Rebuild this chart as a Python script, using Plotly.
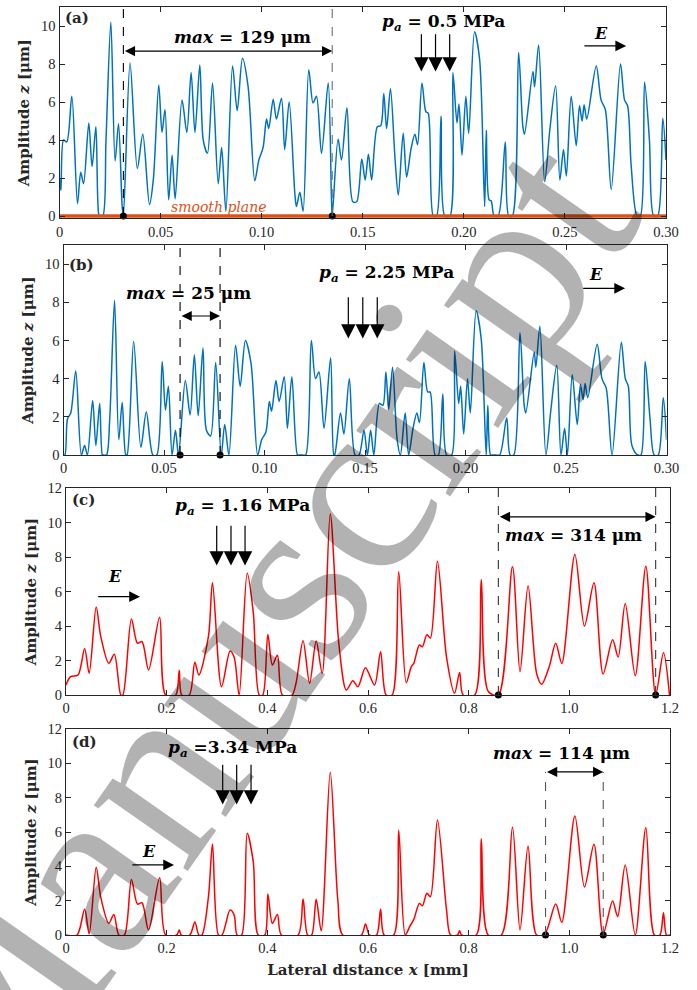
import plotly.graph_objects as go

# ---------------- data ----------------
x_ab = [0.0000, 0.0007, 0.0020, 0.0036, 0.0061, 0.0089, 0.0105, 0.0119, 0.0145, 0.0161,
        0.0180, 0.0194, 0.0200, 0.0214, 0.0230, 0.0254, 0.0275, 0.0292, 0.0310, 0.0316,
        0.0349, 0.0385, 0.0412, 0.0445, 0.0464, 0.0491, 0.0507, 0.0522, 0.0540, 0.0557,
        0.0572, 0.0606, 0.0630, 0.0651, 0.0670, 0.0694, 0.0711, 0.0732, 0.0757, 0.0785,
        0.0802, 0.0823, 0.0856, 0.0879, 0.0905, 0.0933, 0.0966, 0.0986, 0.1007, 0.1024,
        0.1035, 0.1057, 0.1073, 0.1098, 0.1114, 0.1136, 0.1164, 0.1172, 0.1189, 0.1205,
        0.1233, 0.1254, 0.1271, 0.1296, 0.1329, 0.1345, 0.1349, 0.1378, 0.1395, 0.1422,
        0.1451, 0.1470, 0.1495, 0.1512, 0.1528, 0.1544, 0.1572, 0.1589, 0.1604, 0.1618,
        0.1637, 0.1660, 0.1676, 0.1700, 0.1717, 0.1739, 0.1758, 0.1771, 0.1793, 0.1812,
        0.1824, 0.1849, 0.1865, 0.1887, 0.1906, 0.1931, 0.1946, 0.1966, 0.1976, 0.1991,
        0.2010, 0.2024, 0.2053, 0.2078, 0.2103, 0.2111, 0.2125, 0.2135, 0.2150, 0.2170,
        0.2205, 0.2222, 0.2240, 0.2271, 0.2292, 0.2300, 0.2342, 0.2350, 0.2370, 0.2400,
        0.2425, 0.2454, 0.2475, 0.2493, 0.2507, 0.2531, 0.2556, 0.2572, 0.2585, 0.2595,
        0.2608, 0.2655, 0.2679, 0.2700, 0.2729, 0.2775, 0.2795, 0.2810, 0.2828, 0.2857,
        0.2873, 0.2894, 0.2918, 0.2939, 0.2959, 0.2984, 0.3000]

z_a = [2.0, 1.35, 4.0, 3.9, 6.3, 0.65, 2.3, 1.7, 4.9, 2.6,
       4.7, 0.1, 0.0, 0.0, 4.0, 10.2, 2.9, 4.85, 0.5, 0.0,
       8.05, 2.5, 4.3, 0.6, 1.9, 6.9, 4.4, 5.6, 0.85, 3.2,
       0.9, 6.1, 4.4, 7.55, 4.4, 7.95, 4.0, 3.3, 7.0, 1.7,
       3.6, 0.25, 7.9, 5.55, 8.3, 6.8, 1.85, 2.95, 3.6, 5.1,
       4.6, 6.15, 5.1, 6.2, 3.5, 6.0, 1.2, 0.5, 1.25, 0.25,
       7.7, 5.95, 6.3, 3.3, 7.0, 1.0, 0.0, 4.05, 2.95, 5.7,
       0.75, 0.75, 3.0, 1.9, 3.25, 1.9, 4.7, 4.75, 6.45, 4.6,
       6.7, 2.95, 1.1, 4.35, 2.05, 3.55, 4.3, 3.75, 7.0, 5.5,
       5.4, 0.0, 0.0, 5.25, 0.0, 0.0, 7.55, 4.9, 5.9, 3.2,
       6.3, 4.35, 9.7, 8.25, 0.5, 4.5, 0.85, 0.8, 0.0, 0.0,
       3.9, 0.0, 0.0, 8.6, 4.7, 4.3, 7.6, 6.8, 9.0, 1.8,
       4.5, 6.85, 1.9, 3.5, 2.1, 6.3, 3.7, 5.8, 5.0, 5.85,
       5.1, 7.9, 6.1, 5.6, 1.4, 8.0, 6.1, 5.8, 2.6, 0.0,
       0.0, 7.05, 4.0, 0.0, 0.0, 5.15, 2.95]

z_b = [0.0, 0.0, 1.9, 2.2, 4.4, 0.0, 0.5, 0.0, 2.85, 0.5,
       2.7, 0.0, 0.0, 0.0, 1.9, 8.1, 0.8, 2.75, 0.0, 0.0,
       5.95, 0.4, 2.25, 0.0, 0.0, 4.9, 2.35, 3.6, 0.0, 1.3,
       0.0, 3.9, 2.1, 5.25, 2.05, 5.6, 1.3, 1.0, 4.85, 0.0,
       1.6, 0.0, 5.75, 3.6, 6.0, 4.8, 0.0, 0.8, 1.2, 2.8,
       2.3, 3.9, 2.8, 4.1, 1.4, 4.1, 0.0, 0.0, 0.0, 0.0,
       6.0, 4.0, 4.35, 1.4, 5.1, 0.0, 0.0, 2.2, 1.1, 4.0,
       0.0, 0.0, 1.3, 0.0, 1.3, 0.0, 2.7, 2.6, 4.35, 2.4,
       4.6, 0.8, 0.0, 2.2, 0.0, 1.4, 2.2, 1.7, 4.85, 3.3,
       3.3, 0.0, 0.0, 3.2, 0.0, 0.0, 5.45, 2.7, 3.6, 1.1,
       4.0, 2.2, 7.55, 6.1, 0.0, 2.6, 0.0, 0.0, 0.0, 0.0,
       1.95, 0.0, 0.0, 6.4, 2.6, 2.2, 5.4, 4.6, 6.75, 0.0,
       2.4, 4.7, 0.0, 1.4, 0.0, 4.2, 1.6, 3.7, 2.9, 3.75,
       3.0, 5.8, 4.0, 3.5, 0.0, 5.9, 4.0, 3.6, 0.5, 0.0,
       0.0, 4.9, 1.9, 0.0, 0.0, 3.0, 0.8]

x_c = [0.000, 0.009, 0.024, 0.037, 0.046, 0.060, 0.069, 0.085, 0.096, 0.109,
       0.113, 0.130, 0.142, 0.151, 0.164, 0.186, 0.198, 0.218, 0.225, 0.230,
       0.245, 0.256, 0.264, 0.283, 0.291, 0.309, 0.326, 0.334, 0.344, 0.360,
       0.372, 0.384, 0.391, 0.401, 0.410, 0.420, 0.430, 0.449, 0.457, 0.471,
       0.484, 0.497, 0.509, 0.525, 0.542, 0.557, 0.570, 0.580, 0.595, 0.613,
       0.625, 0.636, 0.648, 0.661, 0.676, 0.686, 0.691, 0.702, 0.708, 0.717,
       0.724, 0.738, 0.756, 0.772, 0.782, 0.789, 0.812, 0.825, 0.839, 0.859,
       0.887, 0.902, 0.918, 0.935, 0.945, 0.960, 0.973, 0.985, 1.011, 1.030,
       1.049, 1.067, 1.086, 1.097, 1.111, 1.131, 1.152, 1.1715, 1.187, 1.199]
z_c = [0.58, 1.06, 1.16, 2.7, 1.26, 5.1, 3.4, 1.84, 2.36, 0.0,
       0.0, 4.4, 3.0, 3.1, 1.45, 4.5, 0.0, 0.0, 1.43, 0.0,
       0.0, 1.9, 1.16, 3.4, 6.5, 0.48, 2.55, 2.2, 0.0, 7.06,
       4.8, 0.0, 0.0, 3.5, 1.74, 2.3, 0.0, 0.0, 0.68, 3.15,
       0.68, 3.13, 1.26, 10.5, 3.0, 0.29, 0.83, 0.48, 1.58, 0.58,
       2.5, 0.0, 0.0, 7.14, 0.71, 1.64, 1.83, 2.9, 2.8, 3.5,
       3.3, 7.76, 2.2, 0.1, 1.3, 0.0, 0.0, 6.7, 0.2, 0.0,
       7.43, 1.35, 6.33, 1.25, 0.62, 1.64, 3.0, 1.83, 8.15, 4.0,
       6.5, 1.22, 3.2, 2.2, 5.3, 1.12, 7.47, 0.0, 2.45, 0.0]

x_d = [0.000, 0.022, 0.037, 0.046, 0.060, 0.069, 0.085, 0.095, 0.105, 0.116,
       0.130, 0.142, 0.151, 0.164, 0.186, 0.198, 0.220, 0.225, 0.229, 0.246,
       0.256, 0.264, 0.270, 0.283, 0.291, 0.303, 0.310, 0.326, 0.334, 0.340,
       0.349, 0.360, 0.372, 0.382, 0.395, 0.401, 0.410, 0.420, 0.428, 0.461,
       0.471, 0.480, 0.488, 0.497, 0.507, 0.525, 0.540, 0.550, 0.587, 0.595,
       0.603, 0.617, 0.625, 0.632, 0.651, 0.661, 0.674, 0.683, 0.691, 0.702,
       0.708, 0.717, 0.724, 0.738, 0.756, 0.764, 0.778, 0.782, 0.786, 0.815,
       0.825, 0.839, 0.865, 0.887, 0.902, 0.918, 0.935, 0.951, 0.973, 0.985,
       1.011, 1.030, 1.049, 1.067, 1.086, 1.096, 1.111, 1.131, 1.152, 1.169,
       1.180, 1.187, 1.193, 1.200]
z_d = [0.0, 0.0, 1.5, 0.06, 3.94, 2.2, 0.68, 1.2, 0.0, 0.0,
       3.24, 1.8, 1.88, 0.29, 3.34, 0.0, 0.0, 0.29, 0.0, 0.0,
       0.76, 0.0, 0.0, 2.23, 5.3, 0.0, 0.0, 1.45, 1.17, 0.0,
       0.0, 5.92, 4.27, 0.0, 0.0, 2.39, 0.68, 1.2, 0.0, 0.0,
       2.1, 0.0, 0.0, 2.08, 0.25, 9.48, 2.04, 0.0, 0.0, 0.64,
       0.0, 0.0, 1.5, 0.0, 0.0, 6.1, 0.0, 0.5, 0.91, 1.84,
       1.7, 2.43, 2.23, 6.7, 1.46, 0.0, 0.0, 0.25, 0.0, 0.0,
       5.6, 0.0, 0.0, 6.27, 0.29, 5.18, 0.0, 0.05, 1.8, 0.74,
       6.93, 2.8, 5.28, 0.05, 1.98, 1.07, 4.08, 0.0, 6.25, 0.0,
       0.0, 1.3, 0.0, 0.0]

smooth_x = [0.0, 0.30]
smooth_z = [0.0, 0.0]

span_a = [0.0316, 0.1349]
span_b = [0.0580, 0.0779]
span_c = [0.8590, 1.1715]
span_d = [0.9527, 1.0674]
max_labels = ["129", "25", "314", "114"]
pressures = ["0.5", "2.25", "1.16", "3.34"]
press_arrows_a = [0.179, 0.186, 0.193]
press_arrows_b = [0.1417, 0.1489, 0.1561]
press_arrows_c = [0.2994, 0.3278, 0.3557]
press_arrows_d = [0.3113, 0.3391, 0.3676]

ab_ticks = [0, 0.05, 0.10, 0.15, 0.20, 0.25, 0.30]
ab_ticktext = ["0", "0.05", "0.10", "0.15", "0.20", "0.25", "0.30"]
cd_ticks = [0, 0.2, 0.4, 0.6, 0.8, 1.0, 1.2]
cd_ticktext = ["0", "0.2", "0.4", "0.6", "0.8", "1.0", "1.2"]
ab_yticks = [0, 2, 4, 6, 8, 10]
cd_yticks = [0, 2, 4, 6, 8, 10, 12]

# ---------------- figure ----------------
W, H = 697, 990
BLUE = "#0072BD"
RED = "#FF0000"
ORANGE = "#D95319"
AX = "#262626"
SERIF = "Liberation Serif"
BSERIF = "DejaVu Serif"

fig = go.Figure()

def line(x, y, xa, ya, color, width=1.5):
    fig.add_trace(go.Scatter(x=x, y=y, xaxis=xa, yaxis=ya, mode="lines",
                             line=dict(color=color, width=width, shape="spline", smoothing=0.85),
                             hoverinfo="skip"))

line(x_ab, z_a, "x", "y", BLUE)
fig.add_trace(go.Scatter(x=smooth_x, y=smooth_z, xaxis="x", yaxis="y", mode="lines",
                         line=dict(color=ORANGE, width=3.5), hoverinfo="skip"))
line(x_ab, z_b, "x2", "y2", BLUE)
line(x_c, z_c, "x3", "y3", RED)
line(x_d, z_d, "x4", "y4", RED)

spans = [span_a, span_b, span_c, span_d]
for i, sp in enumerate(spans):
    xa = "x" if i == 0 else f"x{i+1}"
    ya = "y" if i == 0 else f"y{i+1}"
    fig.add_trace(go.Scatter(x=sp, y=[0, 0], xaxis=xa, yaxis=ya, mode="markers",
                             marker=dict(color="black", size=7), cliponaxis=False, hoverinfo="skip"))

def px_dom(a, b, total):
    return [a / total, b / total]

xdoms = [px_dom(59.5, 666, W), px_dom(63.5, 666.5, W), px_dom(66, 670, W), px_dom(66, 670, W)]
ydoms = [[1 - 218.3 / H, 1 - 7 / H], [1 - 455 / H, 1 - 245 / H],
         [1 - 695 / H, 1 - 488 / H], [1 - 935 / H, 1 - 729 / H]]
yranges = [[-0.12, 11], [0, 11], [0, 12], [0, 12]]
xranges = [[0, 0.30], [0, 0.30], [0, 1.2], [0, 1.2]]

common = dict(showline=True, linecolor=AX, linewidth=1, mirror="ticks", ticks="inside",
              ticklen=5, tickcolor=AX, tickwidth=1, showgrid=False, zeroline=False,
              tickfont=dict(family=SERIF, size=14.5, color=AX), automargin=False)

layout = {}
for i in range(4):
    xk = "xaxis" if i == 0 else f"xaxis{i+1}"
    yk = "yaxis" if i == 0 else f"yaxis{i+1}"
    xid = "x" if i == 0 else f"x{i+1}"
    yid = "y" if i == 0 else f"y{i+1}"
    xd = dict(common, domain=xdoms[i], range=xranges[i], anchor=yid,
              tickvals=ab_ticks if i < 2 else cd_ticks,
              ticktext=ab_ticktext if i < 2 else cd_ticktext)
    if i == 3:
        xd["title"] = dict(text="<b>Lateral distance <i>x</i> [mm]</b>",
                           font=dict(family=BSERIF, size=15, color=AX), standoff=9)
    yd = dict(common, domain=ydoms[i], range=yranges[i], anchor=xid,
              tickvals=ab_yticks if i < 2 else cd_yticks,
              title=dict(text="<b>Amplitude <i>z</i> [μm]</b>",
                         font=dict(family=BSERIF, size=15, color=AX), standoff=7))
    layout[xk] = xd
    layout[yk] = yd

fig.update_layout(width=W, height=H, margin=dict(l=0, r=0, t=0, b=0),
                  paper_bgcolor="white", plot_bgcolor="white", showlegend=False, **layout)

shapes = []
anns = []

def refs(i):
    return ("x" if i == 0 else f"x{i+1}", "y" if i == 0 else f"y{i+1}")

def arrow(i, x0, y0, x1, y1, size=1.6, width=1.2, side="end", color="black"):
    xr, yr = refs(i)
    anns.append(dict(x=x1, y=y1, ax=x0, ay=y0, xref=xr, yref=yr, axref=xr, ayref=yr,
                     text="", showarrow=True, arrowhead=2, arrowsize=size, arrowwidth=width,
                     arrowcolor=color, arrowside=side, standoff=0, startstandoff=0))

def text(i, x, y, t, size=16, family=BSERIF, color="black", xanchor="center"):
    xr, yr = refs(i)
    anns.append(dict(x=x, y=y, xref=xr, yref=yr, text=t, showarrow=False, xanchor=xanchor,
                     yanchor="middle", font=dict(family=family, size=size, color=color)))

def vdash(i, x, y0, y1, color="black"):
    xr, yr = refs(i)
    shapes.append(dict(type="line", xref=xr, yref=yr, x0=x, x1=x, y0=y0, y1=y1,
                       line=dict(color=color, width=1.1, dash="dash")))

# panel labels
for i, (lab, lx, ly) in enumerate([("(a)", 0.0017, 10.4), ("(b)", 0.0017, 9.95),
                                   ("(c)", 0.008, 11.3), ("(d)", 0.008, 11.26)]):
    text(i, lx, ly, f"<b>{lab}</b>", size=15, xanchor="left", color=AX)

# max spans
span_cfg = [
    (0, span_a, 11, 8.68, 0.0906, 9.44, ["black", "#6e6e6e"]),
    (1, span_b, 11, 7.28, 0.0624, 8.46, ["black", "black"]),
    (2, span_c, 12, 10.33, 1.008, 9.27, ["#333333", "#333333"]),
    (3, span_d, 9.5, 9.5, 0.984, 10.6, ["#555555", "#555555"]),
]
for (i, sp, top, ay, lx, ly, cols) in span_cfg:
    vdash(i, sp[0], 0, top, cols[0])
    vdash(i, sp[1], 0, top, cols[1])
    arrow(i, sp[0], ay, sp[1], ay, size=1.7, width=1.2, side="end+start")
    text(i, lx, ly, f"<b><i>max</i> = {max_labels[i]} μm</b>", size=17)

# pressure labels and arrows
press_cfg = [
    (0, 0.190, 10.2, press_arrows_a, 9.65, 7.6, " = "),
    (1, 0.1607, 9.5, press_arrows_b, 8.34, 6.1, " = "),
    (2, 0.3507, 10.93, press_arrows_c, 9.9, 7.5, " = "),
    (3, 0.331, 10.87, press_arrows_d, 10.0, 7.6, " ="),
]
for (i, lx, ly, arr, y0, y1, eq) in press_cfg:
    text(i, lx, ly, f"<b><i>p</i><sub><i>a</i></sub>{eq}{pressures[i]} MPa</b>", size=17)
    for ax_ in arr:
        arrow(i, ax_, y0, ax_, y1, size=2.4, width=1.2)

# E arrows
e_cfg = [
    (0, 0.2589, 0.2803, 8.95, 0.268, 9.6),
    (1, 0.2578, 0.2794, 8.73, 0.2651, 9.46),
    (2, 0.061, 0.147, 5.7, 0.098, 6.87),
    (3, 0.129, 0.2146, 4.08, 0.165, 4.85),
]
for (i, x0, x1, y, lx, ly) in e_cfg:
    arrow(i, x0, y, x1, y, size=1.8, width=1.2)
    text(i, lx, ly, "<b><i>E</i></b>", size=16)

# smooth plane label
text(0, 0.079, 0.5, "<i>smooth plane</i>", size=14, family=BSERIF, color=ORANGE)

# watermark
anns.append(dict(x=250 / W, y=1 - 634 / H, xref="paper", yref="paper", text="Manuscript",
                 showarrow=False, textangle=-55, xanchor="center", yanchor="middle",
                 font=dict(family="Liberation Serif", size=250, color="rgba(0,0,0,0.3)")))

fig.update_layout(shapes=shapes, annotations=anns)
fig.write_html("out.html")
